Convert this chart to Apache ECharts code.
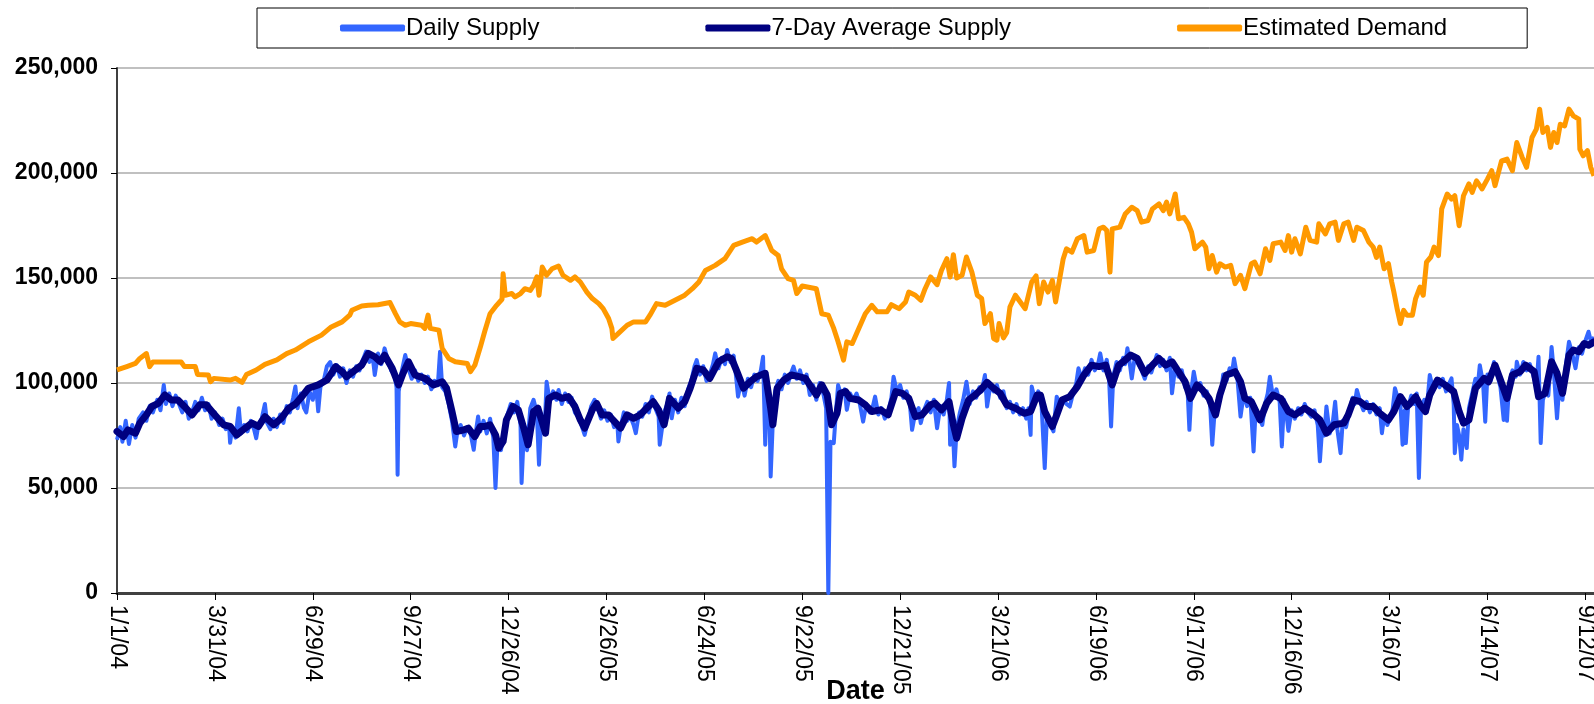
<!DOCTYPE html>
<html>
<head>
<meta charset="utf-8">
<title>Daily Supply vs Estimated Demand</title>
<script src="https://cdn.jsdelivr.net/npm/echarts@6.0.0/dist/echarts.min.js"></script>
<style>
  html, body { margin: 0; padding: 0; background: #fff; }
  #chart { width: 1594px; height: 704px; }
</style>
</head>
<body>
<div id="chart"></div>
<script>
// x values are days counted from 1/1/04
const seriesNames = ['Daily Supply', '7-Day Average Supply', 'Estimated Demand'];
const tickStepDays = 90;
const lastDay = 1358;

// Daily supply (approximate readings, spikes included)
const dailySupply = [
  [0, 73000], [3, 79000], [5, 72000], [8, 82000], [11, 71000], [14, 80000], [17, 74000], [20, 83000], [24, 86000], [27, 82000],
  [30, 89000], [33, 86000], [37, 92000], [40, 87000], [43, 99000], [45, 90000], [48, 95000], [51, 89000], [54, 94000], [57, 90000],
  [60, 86000], [63, 91000], [66, 83000], [69, 86000], [72, 91000], [75, 87000], [78, 93000], [81, 87000], [84, 90000], [87, 83000],
  [90, 86000], [94, 80000], [97, 83000], [100, 78000], [103, 80000], [104, 71500], [106, 79000], [109, 74000], [112, 88000], [114, 76000],
  [117, 80000], [120, 77000], [123, 82000], [126, 78000], [128, 73700], [130, 80000], [133, 83000], [136, 90000], [138, 81000], [141, 78000],
  [144, 83000], [147, 79000], [150, 85000], [153, 81000], [156, 89000], [159, 86000], [162, 93000], [164, 98300], [166, 88000],
  [169, 95000], [172, 88000], [174, 86000], [177, 96000], [180, 92000], [183, 99000], [185, 86500], [187, 98000], [190, 101000], [193, 108000],
  [196, 110000], [199, 104000], [202, 108500], [205, 103000], [208, 107000], [211, 100000], [214, 106000], [217, 103000], [220, 108000], [223, 106000],
  [226, 111000], [229, 115000], [232, 110000], [235, 113000], [237, 103800], [240, 114000], [243, 109000], [246, 116500], [249, 111000], [252, 106000],
  [255, 104000], [257, 98000], [258, 56300], [259, 96000], [262, 106000], [265, 113300], [268, 107000], [271, 102000], [274, 106000], [277, 101000],
  [280, 104000], [283, 100000], [286, 103000], [289, 97000], [292, 101000], [295, 99000], [297, 114900], [299, 98000], [302, 96000], [305, 90000],
  [308, 82000], [311, 69800], [313, 77000], [316, 80000], [319, 75000], [322, 79000], [325, 76000], [328, 68200], [330, 77000], [332, 84000], [334, 77000],
  [337, 82000], [340, 76000], [343, 83000], [346, 74000], [348, 50000], [350, 73000], [353, 68000], [356, 78000], [359, 85000], [362, 90000],
  [365, 86000], [368, 91000], [371, 80000], [372, 52400], [374, 76000], [377, 68000], [380, 88000], [383, 92000], [386, 86000], [388, 61100],
  [390, 82000], [393, 76000], [395, 100600], [398, 91000], [401, 96000], [404, 92000], [406, 96700], [409, 90000], [412, 95000], [415, 91000],
  [418, 93000], [421, 86000], [424, 84000], [427, 80000], [430, 75300], [433, 82000], [436, 89000], [439, 92000], [442, 88000], [445, 83000],
  [448, 87000], [451, 82000], [454, 85000], [457, 79000], [460, 81000], [461, 72200], [463, 79000], [466, 86000], [469, 82000], [472, 84000],
  [475, 80000], [477, 76100], [480, 86000], [483, 84000], [486, 90000], [489, 86000], [492, 93500], [495, 88000], [498, 84000], [499, 70600],
  [501, 78000], [503, 86000], [506, 90000], [508, 95000], [510, 83200], [513, 92000], [516, 86000], [519, 93000], [522, 89000], [525, 97000],
  [528, 101000], [531, 108000], [533, 110900], [536, 104000], [539, 108000], [542, 101000], [545, 104000], [548, 109000], [550, 114100], [553, 107000],
  [556, 112000], [559, 109000], [561, 115700], [564, 110000], [567, 113000], [569, 104000], [571, 93500], [574, 101000], [577, 94000], [580, 102000],
  [583, 98000], [586, 104000], [589, 101000], [592, 106000], [594, 112500], [596, 70600], [598, 100000], [600, 84000], [601, 55500], [603, 82000],
  [605, 96000], [608, 101000], [611, 97000], [614, 104000], [617, 100000], [620, 105000], [622, 107800], [625, 102000], [628, 106000], [631, 100000],
  [634, 104000], [637, 94300], [640, 99000], [643, 92000], [646, 100000], [649, 96000], [652, 88000], [654, 0], [656, 72000], [659, 71400],
  [661, 86000], [663, 99000], [666, 94000], [669, 97000], [671, 87200], [674, 95000], [677, 92000], [680, 95000], [683, 90000], [686, 81600],
  [689, 90000], [692, 86000], [695, 89000], [697, 93500], [700, 85000], [703, 88000], [706, 83000], [709, 86000], [712, 93000], [714, 103000],
  [717, 96000], [720, 99000], [723, 93000], [726, 96000], [729, 90000], [731, 77700], [734, 86000], [737, 88000], [739, 80900], [742, 87000],
  [745, 91000], [748, 86000], [751, 92000], [754, 78500], [757, 89000], [760, 85000], [763, 92000], [765, 100000], [766, 70600], [768, 84000],
  [770, 60300], [772, 78000], [775, 86000], [778, 92000], [781, 100600], [784, 90000], [787, 96000], [790, 93000], [793, 98000], [795, 96000],
  [798, 103800], [800, 88800], [803, 99000], [806, 96000], [809, 99000], [812, 93000], [815, 96000], [818, 88000], [821, 91000], [824, 86000],
  [827, 90000], [830, 85000], [833, 88000], [836, 83000], [838, 88000], [840, 75300], [841, 98300], [844, 92000], [847, 96000], [850, 90000],
  [853, 59500], [855, 84000], [858, 80000], [861, 77000], [864, 93500], [867, 88000], [870, 92000], [873, 90000], [876, 88800], [879, 95000],
  [882, 100000], [884, 107000], [887, 102000], [890, 107000], [893, 104000], [896, 111000], [899, 106000], [902, 109000], [904, 114100], [907, 106000],
  [910, 111000], [912, 104000], [914, 79300], [916, 103000], [919, 110000], [922, 106000], [925, 112000], [927, 109000], [929, 116500], [931, 110000],
  [933, 102200], [936, 113000], [939, 109000], [942, 106000], [945, 102000], [948, 108000], [951, 105000], [954, 110000], [956, 113300], [959, 108000],
  [962, 111000], [965, 106000], [968, 112000], [970, 95100], [973, 108000], [976, 103000], [979, 106000], [982, 98000], [984, 100000], [986, 77700],
  [988, 97000], [990, 105400], [993, 97000], [996, 100000], [999, 94000], [1002, 96000], [1005, 90000], [1007, 70600], [1009, 85000], [1012, 92000],
  [1015, 94000], [1017, 104000], [1020, 101000], [1023, 107000], [1025, 104000], [1027, 111700], [1030, 103000], [1033, 84000], [1036, 95000], [1039, 89000],
  [1042, 93000], [1045, 67400], [1047, 88000], [1050, 84000], [1053, 80000], [1056, 91000], [1058, 95000], [1060, 103000], [1063, 93000], [1066, 97000],
  [1069, 91000], [1071, 69800], [1073, 92000], [1075, 86000], [1077, 77200], [1080, 87000], [1083, 83000], [1086, 88000], [1089, 85000], [1092, 90000],
  [1095, 86000], [1098, 84000], [1101, 87000], [1104, 80000], [1106, 62700], [1108, 78000], [1110, 75000], [1112, 88800], [1115, 76000], [1118, 82000],
  [1120, 91100], [1122, 78000], [1125, 66600], [1127, 82000], [1130, 79000], [1133, 86000], [1136, 93000], [1138, 90000], [1140, 96700], [1143, 91000],
  [1146, 87000], [1149, 91000], [1152, 86000], [1155, 90000], [1158, 85000], [1161, 88000], [1163, 76100], [1165, 84000], [1168, 80000], [1171, 84000],
  [1173, 88000], [1175, 97500], [1178, 92000], [1180, 90000], [1182, 70600], [1184, 87000], [1185, 71400], [1187, 88000], [1190, 94000], [1193, 90000],
  [1195, 95000], [1197, 54800], [1199, 88000], [1202, 92000], [1204, 86000], [1207, 103800], [1210, 97000], [1213, 101000], [1216, 98000], [1219, 102000],
  [1222, 96000], [1225, 100000], [1227, 102200], [1229, 90000], [1230, 66600], [1232, 80000], [1234, 75000], [1236, 63500], [1238, 78000], [1241, 69000],
  [1243, 88000], [1246, 95000], [1249, 102000], [1251, 98000], [1253, 108500], [1256, 100000], [1258, 81600], [1260, 104000], [1263, 101000], [1266, 110000],
  [1269, 104000], [1272, 98000], [1275, 82400], [1277, 96000], [1278, 82000], [1280, 100000], [1283, 106000], [1286, 103000], [1287, 110100], [1290, 104000],
  [1293, 110000], [1296, 106000], [1299, 109000], [1302, 104000], [1305, 98000], [1307, 112500], [1309, 71400], [1311, 92000], [1314, 97000], [1316, 94000],
  [1319, 117200], [1321, 106000], [1324, 83200], [1326, 98000], [1329, 92000], [1332, 108000], [1335, 119600], [1338, 114000], [1341, 107000], [1344, 117000],
  [1347, 114000], [1350, 120000], [1353, 124400], [1356, 118000], [1358, 122000]
];

// 7-day average supply
const avgSupply = [
  [0, 76900], [6, 74500], [10, 77700], [17, 76100], [21, 80900], [27, 84800], [32, 88800], [38, 90300], [44, 94300], [50, 91900],
  [56, 91900], [62, 88800], [69, 84800], [76, 89600], [82, 89600], [90, 84800], [98, 80100], [104, 79300], [110, 75300], [116, 77700],
  [124, 80900], [130, 79300], [136, 84000], [144, 80100], [151, 83200], [158, 88000], [164, 90000], [170, 93500], [176, 97500], [185, 99100],
  [193, 101400], [201, 107800], [207, 105400], [211, 103000], [217, 105400], [225, 108500], [231, 114100], [237, 112500], [242, 110100], [246, 113300],
  [253, 107000], [259, 99100], [263, 104600], [268, 110100], [274, 103800], [283, 102200], [291, 99100], [299, 100600], [303, 97500], [308, 86400],
  [312, 76900], [319, 77700], [323, 78500], [329, 74500], [334, 79300], [338, 79300], [343, 80100], [348, 75300], [351, 69000], [355, 72200],
  [358, 82400], [364, 88800], [369, 87200], [374, 78500], [378, 70600], [383, 86400], [387, 88000], [394, 76100], [397, 92700], [403, 94300],
  [409, 92700], [415, 93500], [421, 88800], [426, 82400], [430, 78500], [437, 87200], [441, 90300], [446, 84800], [452, 84800], [456, 82400],
  [463, 78500], [469, 84800], [475, 83200], [481, 84800], [487, 88000], [493, 91100], [498, 87200], [503, 80100], [508, 92700], [516, 88000],
  [522, 91100], [527, 97500], [533, 107000], [539, 106200], [545, 102200], [553, 110100], [561, 112500], [565, 111700], [570, 105400], [576, 97500],
  [582, 100600], [588, 103000], [596, 104600], [601, 88000], [603, 80100], [607, 97500], [613, 101400], [620, 103800], [627, 103000], [633, 102200],
  [639, 97500], [643, 94300], [648, 99100], [653, 94300], [657, 80100], [662, 85600], [665, 95100], [670, 95900], [674, 92700], [682, 91900],
  [688, 89600], [694, 86400], [702, 87200], [709, 84800], [716, 95900], [722, 95100], [728, 92700], [734, 84000], [740, 84800], [748, 89600],
  [752, 90400], [758, 87200], [765, 91100], [769, 80100], [772, 73700], [777, 83200], [783, 91900], [789, 94300], [794, 96700], [800, 100300],
  [806, 97500], [812, 95100], [818, 89600], [826, 88000], [834, 85600], [840, 86400], [846, 94300], [849, 94300], [853, 86400], [860, 79300],
  [864, 84800], [869, 91900], [876, 93500], [883, 98300], [889, 103800], [896, 108500], [903, 107800], [909, 108500], [915, 99100], [921, 108500],
  [927, 110900], [932, 113300], [938, 111700], [945, 104600], [952, 108500], [958, 111700], [964, 108500], [970, 110100], [976, 105400], [982, 100600],
  [987, 92700], [993, 99100], [998, 96700], [1004, 92700], [1010, 84800], [1014, 94300], [1020, 103800], [1028, 105400], [1033, 100600], [1037, 92700],
  [1043, 91100], [1051, 82400], [1057, 90300], [1063, 94300], [1070, 92700], [1077, 86400], [1083, 84800], [1092, 88000], [1099, 85600], [1106, 82400],
  [1112, 76100], [1119, 80100], [1128, 80900], [1132, 84800], [1137, 91900], [1143, 91100], [1149, 88800], [1155, 88800], [1161, 85600], [1169, 82400],
  [1174, 86400], [1180, 93500], [1186, 88800], [1189, 90300], [1194, 93500], [1198, 89600], [1203, 86400], [1207, 94300], [1214, 101400], [1221, 99100],
  [1229, 95900], [1234, 86400], [1238, 80900], [1243, 82400], [1249, 97500], [1257, 102200], [1261, 100600], [1267, 108500], [1272, 101400], [1278, 92700],
  [1283, 103800], [1290, 105400], [1295, 108500], [1303, 105400], [1307, 93500], [1313, 95100], [1319, 110100], [1324, 104600], [1329, 95100], [1335, 113300],
  [1339, 115700], [1344, 114900], [1349, 118800], [1353, 118000], [1358, 119600]
];

// estimated demand
const estDemand = [
  [0, 106200], [9, 107800], [17, 109300], [21, 111700], [27, 114000], [30, 107800], [33, 110000], [59, 110000], [62, 107800], [72, 107800],
  [74, 104100], [84, 103800], [86, 100600], [89, 102200], [104, 101400], [109, 102200], [115, 100300], [119, 104000], [128, 106200], [136, 108900],
  [147, 111000], [156, 114000], [164, 115700], [176, 119600], [188, 122800], [197, 126700], [207, 129100], [214, 132300], [216, 134600], [225, 136700],
  [231, 137000], [240, 137300], [251, 138300], [256, 133000], [260, 129100], [265, 127500], [270, 128300], [280, 127500], [283, 126000], [286, 132300],
  [288, 126000], [296, 125200], [299, 116500], [305, 111700], [311, 110100], [322, 109300], [325, 105400], [329, 108500], [334, 117000], [338, 124400],
  [343, 133000], [349, 137000], [354, 139900], [355, 152000], [357, 141800], [363, 142600], [366, 141000], [371, 142600], [375, 144900], [380, 144100],
  [383, 146500], [386, 150500], [388, 141800], [391, 155200], [395, 151300], [400, 154400], [406, 155700], [410, 151300], [417, 148900], [421, 150500],
  [426, 148100], [432, 143300], [437, 140200], [443, 137800], [447, 135400], [452, 130700], [455, 126000], [456, 121200], [461, 123600], [469, 127500],
  [475, 129100], [486, 129100], [490, 132300], [496, 137800], [504, 137000], [513, 139400], [522, 141800], [529, 144900], [535, 148100], [541, 153600],
  [550, 156000], [559, 159200], [567, 165500], [575, 167100], [584, 168700], [588, 167100], [596, 170200], [602, 163100], [608, 160700], [611, 154400],
  [617, 149700], [622, 148900], [625, 142600], [630, 146200], [643, 144900], [648, 133000], [654, 132300], [659, 126000], [663, 119600], [668, 110900],
  [671, 119600], [676, 118800], [680, 123600], [688, 133000], [694, 137000], [699, 133900], [708, 133900], [712, 137300], [719, 135400], [725, 138600],
  [728, 143300], [734, 141800], [739, 139400], [743, 144900], [748, 150500], [754, 146800], [758, 153600], [763, 159200], [766, 150500], [769, 161100],
  [772, 150000], [777, 151300], [781, 160000], [786, 152800], [791, 141800], [795, 140200], [798, 128300], [803, 133000], [806, 121200], [809, 120400],
  [811, 128300], [815, 121500], [818, 124000], [821, 136200], [826, 141800], [830, 138900], [835, 135400], [841, 148100], [845, 151000], [848, 137800],
  [852, 148100], [856, 143300], [860, 148900], [863, 138600], [867, 150500], [870, 159200], [873, 163900], [878, 162300], [883, 168700], [889, 170200],
  [892, 162300], [898, 163100], [903, 173400], [907, 174200], [910, 172600], [913, 152800], [915, 173400], [922, 174200], [927, 180500], [933, 183700],
  [938, 182100], [942, 176600], [948, 177400], [952, 182900], [958, 185300], [962, 182100], [965, 186100], [968, 180500], [973, 190000], [976, 178200],
  [981, 178900], [985, 175800], [988, 171800], [991, 163900], [998, 167100], [1001, 164700], [1004, 154400], [1007, 160700], [1011, 152800], [1014, 156800],
  [1019, 155200], [1024, 156000], [1028, 147300], [1033, 151300], [1037, 144900], [1043, 156800], [1046, 157600], [1051, 152000], [1056, 163900], [1060, 158400],
  [1063, 166300], [1070, 167100], [1074, 163100], [1077, 170200], [1080, 162300], [1083, 168700], [1088, 161500], [1093, 174200], [1097, 167900], [1103, 167100],
  [1105, 175800], [1111, 171000], [1115, 175800], [1120, 176600], [1123, 167900], [1128, 175800], [1132, 176600], [1137, 167900], [1140, 174200], [1146, 172600],
  [1151, 167100], [1155, 164700], [1158, 159800], [1161, 164700], [1165, 154400], [1169, 156800], [1172, 148100], [1174, 143300], [1177, 135400], [1180, 128300],
  [1183, 134600], [1186, 132300], [1191, 132300], [1194, 140200], [1198, 145700], [1201, 141800], [1204, 157600], [1208, 160000], [1211, 164700], [1215, 160700],
  [1218, 182900], [1223, 190000], [1227, 187600], [1230, 189200], [1234, 174900], [1238, 189200], [1243, 194800], [1246, 190800], [1250, 196300], [1255, 192400],
  [1260, 197100], [1264, 201100], [1267, 194000], [1273, 205800], [1278, 206600], [1283, 201100], [1287, 214500], [1292, 207400], [1296, 202700], [1301, 216900],
  [1305, 220900], [1308, 230400], [1311, 219300], [1315, 221700], [1318, 212200], [1321, 219300], [1324, 214500], [1327, 223200], [1331, 222400], [1335, 230400],
  [1339, 227200], [1344, 225600], [1345, 211400], [1348, 208200], [1352, 210600], [1355, 202700], [1358, 198700]
];

// day number -> m/d/yy
function dayLabel(d) {
    const t = new Date(2004, 0, 1 + d);
    return (t.getMonth() + 1) + '/' + t.getDate() + '/' + String(t.getFullYear()).slice(2);
}

const FONT = 'Liberation Sans, Arial, sans-serif';
const chart = echarts.init(document.getElementById('chart'));

const option = {
    animation: false,
    backgroundColor: '#fff',
    legend: {
        left: 257,
        top: 8,
        padding: [8, 80, 8, 83],
        itemGap: 166,
        itemWidth: 65,
        itemHeight: 7,
        borderColor: '#000',
        borderWidth: 1,
        textStyle: { fontFamily: FONT, fontSize: 24, color: '#000', padding: [0, 0, 0, -4] },
        data: seriesNames.map(n => ({ name: n, icon: 'roundRect' }))
    },
    grid: {
        left: 117,
        right: 0,
        top: 68,
        bottom: 111,
        outerBoundsMode: 'none'
    },
    xAxis: {
        type: 'value',
        min: 0,
        max: lastDay,
        interval: tickStepDays,
        name: 'Date',
        nameLocation: 'middle',
        nameGap: 85,
        nameMoveOverlap: false,
        nameTextStyle: { fontFamily: FONT, fontSize: 27, fontWeight: 'bold', color: '#000' },
        axisLine: { show: true, onZero: false, lineStyle: { color: '#404040', width: 3 } },
        axisTick: { show: true, length: 7, lineStyle: { color: '#000', width: 1 } },
        splitLine: { show: false },
        axisLabel: {
            rotate: -90,
            margin: 12,
            fontFamily: FONT,
            fontSize: 23,
            color: '#000',
            showMaxLabel: false,
            formatter: v => (v % tickStepDays === 0 ? dayLabel(v) : '')
        }
    },
    yAxis: {
        type: 'value',
        min: 0,
        max: 250000,
        interval: 50000,
        axisLine: { show: true, lineStyle: { color: '#404040', width: 2 } },
        axisTick: { show: true, length: 6, lineStyle: { color: '#000', width: 1 } },
        splitLine: { show: true, lineStyle: { color: '#c0c0c0', width: 2 } },
        axisLabel: {
            margin: 19,
            fontFamily: FONT,
            fontSize: 23,
            fontWeight: 'bold',
            color: '#000',
            formatter: v => v.toLocaleString('en-US')
        }
    },
    series: [
        {
            name: seriesNames[0],
            type: 'line',
            data: dailySupply,
            symbol: 'none',
            showSymbol: false,
            z: 2,
            itemStyle: { color: '#3366ff' },
            lineStyle: { color: '#3366ff', width: 4, join: 'round' }
        },
        {
            name: seriesNames[1],
            type: 'line',
            data: avgSupply,
            symbol: 'none',
            showSymbol: false,
            z: 3,
            itemStyle: { color: '#000080' },
            lineStyle: { color: '#000080', width: 7, join: 'round', cap: 'round' }
        },
        {
            name: seriesNames[2],
            type: 'line',
            data: estDemand,
            symbol: 'none',
            showSymbol: false,
            z: 4,
            itemStyle: { color: '#ff9900' },
            lineStyle: { color: '#ff9900', width: 5, join: 'round' }
        }
    ]
};

chart.setOption(option);
</script>
</body>
</html>
